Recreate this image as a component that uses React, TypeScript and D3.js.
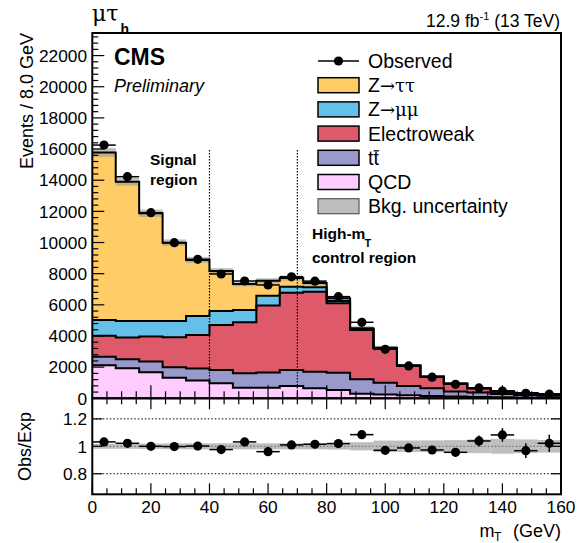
import React from "react";
import * as d3 from "d3";

// m_T distribution in the mu-tau_h channel, 8 GeV bins from 0 to 160 GeV
const binLow = [0, 8, 16, 24, 32, 40, 48, 56, 64, 72, 80, 88, 96, 104, 112, 120, 128, 136, 144, 152];
const binWidth = 8;

// Background yields per bin (events / 8 GeV), stacked bottom to top
const qcd = [2120, 1925, 1670, 1325, 1135, 965, 685, 685, 790, 640, 535, 300, 250, 200, 150, 110, 80, 60, 40, 30];
const ttbar = [555, 580, 685, 665, 770, 855, 920, 965, 1025, 1070, 1110, 920, 755, 590, 490, 320, 285, 220, 175, 140];
const electroweak = [1345, 1390, 1605, 1925, 2160, 2890, 3275, 4300, 4965, 5135, 4450, 3165, 2205, 1300, 745, 510, 275, 150, 115, 85];
const zmumu = [1005, 1070, 1005, 1050, 1220, 900, 790, 640, 385, 280, 155, 65, 20, 10, 5, 2, 1, 1, 1, 1];
const ztautau = [10760, 8940, 6910, 5025, 3595, 2565, 1670, 950, 555, 275, 165, 50, 10, 5, 2, 1, 1, 1, 0, 0];

// Relative background uncertainty per bin
const bkgUnc = [0.018, 0.018, 0.02, 0.021, 0.022, 0.022, 0.022, 0.022, 0.022, 0.022, 0.024, 0.03, 0.042, 0.042, 0.043, 0.045, 0.05, 0.054, 0.05, 0.046];

// Observed events and observed / expected ratio
const observed = [16255, 14225, 11915, 9990, 8920, 7980, 7530, 7275, 7800, 7520, 6525, 4880, 3145, 2080, 1355, 900, 667, 468, 320, 262];
const obsOverExp = [1.032, 1.022, 1.0, 0.998, 1.002, 0.976, 1.032, 0.961, 1.01, 1.015, 1.02, 1.085, 0.971, 0.988, 0.973, 0.956, 1.039, 1.083, 0.968, 1.022];

// Axis ticks
const xTicks = [0, 20, 40, 60, 80, 100, 120, 140, 160];
const yTicks = [0, 2000, 4000, 6000, 8000, 10000, 12000, 14000, 16000, 18000, 20000, 22000];
const ratioTicks = [0.8, 1, 1.2];
const regionEdges = [40, 70];

const processes = [
  { key: "qcd", label: "QCD", color: "#FFCCFF", values: qcd },
  { key: "ttbar", label: "tt", color: "#9999CC", values: ttbar },
  { key: "ewk", label: "Electroweak", color: "#DE5A6A", values: electroweak },
  { key: "zmm", label: "Z→μμ", color: "#64C0E8", values: zmumu },
  { key: "ztt", label: "Z→ττ", color: "#FFCC66", values: ztautau },
];

const W = 581;
const H = 543;
const L = 92.3;
const R = 561;
const T = 33;
const MB = 398.3;
const RB = 494.3;
const SANS = "'Liberation Sans', Arial, Helvetica, sans-serif";
const SERIF = "'DejaVu Serif', 'Liberation Serif', serif";

export default function App() {
  const x = d3.scaleLinear().domain([0, 160]).range([L, R]);
  const y = d3.scaleLinear().domain([0, 23450]).range([MB, T]);
  const yr = d3.scaleLinear().domain([0.65, 1.35]).range([RB, MB]);

  const edges = [...binLow, binLow[binLow.length - 1] + binWidth];
  const rows = binLow.map((_, i) => {
    const r: Record<string, number> = {};
    processes.forEach((p) => (r[p.key] = p.values[i]));
    return r;
  });
  const stacked = d3.stack<Record<string, number>>().keys(processes.map((p) => p.key))(rows);

  const ext = (arr: any[]) => [...arr, arr[arr.length - 1]];
  const area = d3
    .area<any>()
    .x((_, i) => x(edges[i]))
    .y0((d) => y(d[0]))
    .y1((d) => y(d[1]))
    .curve(d3.curveStepAfter);
  const topLine = d3
    .line<any>()
    .x((_, i) => x(edges[i]))
    .y((d) => y(d[1]))
    .curve(d3.curveStepAfter);

  const totals = stacked[stacked.length - 1].map((d) => d[1]);

  const xMinor = d3.range(0, 161, 5);
  const yMinor = d3.range(0, 23450, 400);

  const legendRows = [
    { label: "Observed", kind: "data" },
    { label: "Z→ττ", kind: "box", color: "#FFCC66" },
    { label: "Z→μμ", kind: "box", color: "#64C0E8" },
    { label: "Electroweak", kind: "box", color: "#DE5A6A" },
    { label: "tt", kind: "box", color: "#9999CC" },
    { label: "QCD", kind: "box", color: "#FFCCFF" },
    { label: "Bkg. uncertainty", kind: "unc" },
  ];

  const renderLabel = (label: string) => {
    if (label.startsWith("Z→")) {
      return (
        <>
          <tspan>Z</tspan>
          <tspan fontFamily={SERIF} fontSize={18}>{label.slice(1)}</tspan>
        </>
      );
    }
    return label;
  };

  return (
    <svg
      width={W}
      height={H}
      viewBox={`0 0 ${W} ${H}`}
      style={{ position: "absolute", left: 0, top: 0, background: "#fff" }}
      fontFamily={SANS}
    >
      <rect x={0} y={0} width={W} height={H} fill="#fff" />

      {/* stacked backgrounds */}
      {stacked.map((s, k) => (
        <path key={"a" + k} d={area(ext(s)) || ""} fill={processes[k].color} />
      ))}

      {/* background uncertainty band */}
      {binLow.map((b, i) => (
        <rect
          key={"u" + i}
          x={x(b)}
          width={x(b + binWidth) - x(b)}
          y={y(totals[i] * (1 + bkgUnc[i]))}
          height={y(totals[i] * (1 - bkgUnc[i])) - y(totals[i] * (1 + bkgUnc[i]))}
          fill="#999"
          fillOpacity={0.6}
        />
      ))}

      {stacked.map((s, k) => (
        <path key={"l" + k} d={topLine(ext(s)) || ""} fill="none" stroke="#000" strokeWidth={2} />
      ))}

      {/* region boundaries */}
      {regionEdges.map((v) => (
        <line key={"r" + v} x1={x(v)} x2={x(v)} y1={150} y2={MB} stroke="#000" strokeWidth={1.2} strokeDasharray="1.5,1.5" />
      ))}

      {/* observed data */}
      {binLow.map((b, i) => {
        const cx = x(b + binWidth / 2);
        const e = Math.sqrt(observed[i]);
        return (
          <g key={"d" + i}>
            <line x1={x(b)} x2={x(b + binWidth)} y1={y(observed[i])} y2={y(observed[i])} stroke="#000" strokeWidth={1.5} />
            <line x1={cx} x2={cx} y1={y(observed[i] - e)} y2={y(observed[i] + e)} stroke="#000" strokeWidth={1.5} />
            <circle cx={cx} cy={y(observed[i])} r={4.6} fill="#000" />
          </g>
        );
      })}

      {/* ratio panel */}
      {binLow.map((b, i) => (
        <rect
          key={"ru" + i}
          x={x(b)}
          width={x(b + binWidth) - x(b)}
          y={yr(1 + bkgUnc[i])}
          height={yr(1 - bkgUnc[i]) - yr(1 + bkgUnc[i])}
          fill="#BEBEBE"
        />
      ))}
      {ratioTicks.map((v) => (
        <line
          key={"rg" + v}
          x1={L}
          x2={R}
          y1={yr(v)}
          y2={yr(v)}
          stroke={v === 1 ? "#666" : "#000"}
          strokeWidth={1}
          strokeDasharray="1.5,2"
        />
      ))}
      {binLow.map((b, i) => {
        const cx = x(b + binWidth / 2);
        const e = obsOverExp[i] / Math.sqrt(observed[i]);
        return (
          <g key={"rd" + i}>
            <line x1={x(b)} x2={x(b + binWidth)} y1={yr(obsOverExp[i])} y2={yr(obsOverExp[i])} stroke="#000" strokeWidth={1.5} />
            <line x1={cx} x2={cx} y1={yr(obsOverExp[i] - e)} y2={yr(obsOverExp[i] + e)} stroke="#000" strokeWidth={1.5} />
            <circle cx={cx} cy={yr(obsOverExp[i])} r={4.6} fill="#000" />
          </g>
        );
      })}

      {/* x ticks */}
      {xMinor.map((v) => {
        const major = v % 20 === 0;
        return (
          <g key={"xt" + v} stroke="#000" strokeWidth={1.2}>
            <line x1={x(v)} x2={x(v)} y1={MB} y2={MB - (major ? 13 : 7)} />
            <line x1={x(v)} x2={x(v)} y1={MB} y2={MB + (major ? 11 : 6)} />
            <line x1={x(v)} x2={x(v)} y1={RB} y2={RB - (major ? 11 : 6)} />
          </g>
        );
      })}
      {/* y ticks, main */}
      {yMinor.map((v) => (
        <line key={"yt" + v} x1={L} x2={L + (v % 2000 === 0 ? 12 : 6)} y1={y(v)} y2={y(v)} stroke="#000" strokeWidth={1.2} />
      ))}
      {/* y ticks, ratio */}
      {ratioTicks.map((v) => (
        <g key={"ryt" + v} stroke="#000" strokeWidth={1.2}>
          <line x1={L} x2={L + 10} y1={yr(v)} y2={yr(v)} />
          <line x1={R} x2={R - 10} y1={yr(v)} y2={yr(v)} />
        </g>
      ))}

      {/* frames */}
      <rect x={L} y={T} width={R - L} height={MB - T} fill="none" stroke="#000" strokeWidth={2} />
      <rect x={L} y={MB} width={R - L} height={RB - MB} fill="none" stroke="#000" strokeWidth={2} />

      {/* tick labels */}
      {yTicks.map((v) => (
        <text key={"yl" + v} x={87} y={y(v)} dy="0.36em" textAnchor="end" fontSize={17.3}>
          {v}
        </text>
      ))}
      {ratioTicks.map((v) => (
        <text key={"rl" + v} x={87} y={yr(v)} dy="0.36em" textAnchor="end" fontSize={17.3}>
          {v === 1 ? "1" : v.toFixed(1)}
        </text>
      ))}
      {xTicks.map((v) => (
        <text key={"xl" + v} x={x(v)} y={512.5} textAnchor="middle" fontSize={17.3}>
          {v}
        </text>
      ))}

      {/* axis titles */}
      <text transform={`translate(33,${T}) rotate(-90)`} textAnchor="end" fontSize={18}>
        Events / 8.0 GeV
      </text>
      <text transform={`translate(30.5,446.5) rotate(-90)`} textAnchor="middle" fontSize={18}>
        Obs/Exp
      </text>
      <text x={479.5} y={536.5} fontSize={18}>m</text>
      <text x={494} y={541} fontSize={12}>T</text>
      <text x={561} y={536.5} textAnchor="end" fontSize={18}>(GeV)</text>

      {/* header */}
      <text x={92} y={21} fontFamily={SERIF} fontSize={22}>μτ</text>
      <text x={120.5} y={34} fontSize={14} fontWeight="bold">h</text>
      <text x={560} y={27} textAnchor="end" fontSize={17.5}>
        <tspan>12.9 fb</tspan>
        <tspan fontSize={11} dy={-7.5}>-1</tspan>
        <tspan dy={7.5}> (13 TeV)</tspan>
      </text>
      <text x={114} y={65} fontSize={23} fontWeight="bold">CMS</text>
      <text x={114} y={91.5} fontSize={18} fontStyle="italic">Preliminary</text>

      {/* region labels */}
      <text x={150} y={164.5} fontSize={15.5} fontWeight="bold">Signal</text>
      <text x={150} y={185} fontSize={15.5} fontWeight="bold">region</text>
      <text x={312} y={238.5} fontSize={15.5} fontWeight="bold">High-m</text>
      <text x={364.5} y={246.5} fontSize={11} fontWeight="bold">T</text>
      <text x={312} y={263} fontSize={15.5} fontWeight="bold">control region</text>

      {/* legend */}
      {legendRows.map((row, i) => {
        const cy = 61 + i * 24.2;
        return (
          <g key={"lg" + i}>
            {row.kind === "data" && (
              <>
                <line x1={318} x2={359} y1={cy} y2={cy} stroke="#000" strokeWidth={1.5} />
                <circle cx={338.5} cy={cy} r={4.6} fill="#000" />
              </>
            )}
            {row.kind === "box" && (
              <rect x={318} y={cy - 7.5} width={41} height={15} fill={row.color} stroke="#000" strokeWidth={1.5} />
            )}
            {row.kind === "unc" && (
              <rect x={318} y={cy - 7.5} width={41} height={15} fill="#BEBEBE" stroke="#555" strokeWidth={1.2} />
            )}
            <text x={368} y={cy + 7} fontSize={19.5}>
              {renderLabel(row.label)}
            </text>
            {row.label === "tt" && (
              <line x1={373.6} x2={379} y1={cy - 7} y2={cy - 7} stroke="#000" strokeWidth={1.2} />
            )}
          </g>
        );
      })}
    </svg>
  );
}
